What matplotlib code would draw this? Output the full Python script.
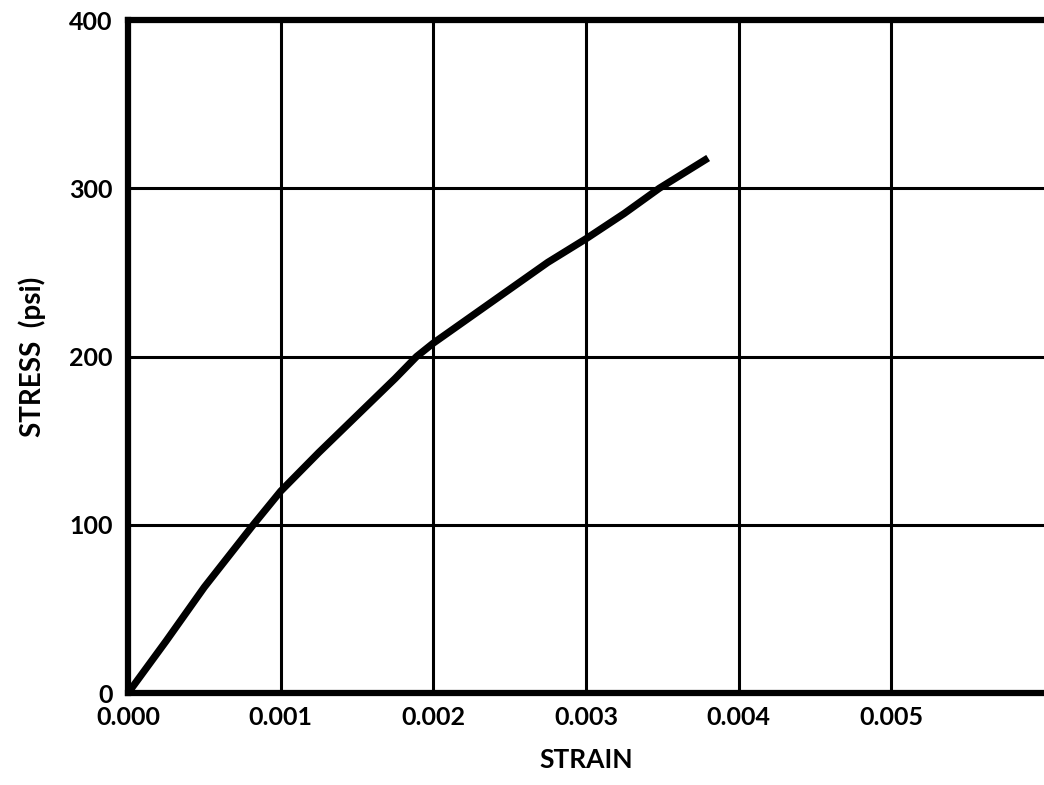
import matplotlib
matplotlib.use("Agg")
import matplotlib.pyplot as plt

# curva esfuerzo-deformación
strain = [0.0, 0.00025, 0.0005, 0.00082, 0.001, 0.00125, 0.0015, 0.00175, 0.00189,
          0.002, 0.00225, 0.0025, 0.00275, 0.003, 0.00325, 0.00348, 0.0038]
stress = [0, 31, 63, 100, 120, 143, 165, 187, 200, 208, 224, 240, 256, 270, 285, 300, 318]

x_ticks = [0.000, 0.001, 0.002, 0.003, 0.004, 0.005]
x_labels = ["0.000", "0.001", "0.002", "0.003", "0.004", "0.005"]
y_ticks = [0, 100, 200, 300, 400]
y_labels = ["0", "100", "200", "300", "400"]

plt.rcParams["font.family"] = ["Lato", "DejaVu Sans"]
plt.rcParams["font.weight"] = "bold"

fig = plt.figure(figsize=(10.44, 7.85), dpi=100)
ax = fig.add_axes([0.1226, 0.117, 0.8774, 0.8575])

ax.plot(strain, stress, color="black", lw=5.2, solid_capstyle="butt",
        solid_joinstyle="round", zorder=3)

ax.set_xlim(0, 0.006)
ax.set_ylim(0, 400)
ax.set_xticks(x_ticks)
ax.set_xticklabels(x_labels)
ax.set_yticks(y_ticks)
ax.set_yticklabels(y_labels)
ax.tick_params(length=0, labelsize=18, pad=9)
ax.tick_params(axis="y", pad=11)

ax.grid(True, color="black", lw=2.2)
ax.set_axisbelow(True)

for s in ["left", "top", "bottom"]:
    ax.spines[s].set_linewidth(4.5)
ax.spines["right"].set_visible(False)

ax.set_xlabel("STRAIN", fontsize=19, fontweight="bold", labelpad=14)
ax.set_ylabel("STRESS  (psi)", fontsize=20, fontweight="bold", labelpad=17)

fig.savefig("out.png", dpi=100)
